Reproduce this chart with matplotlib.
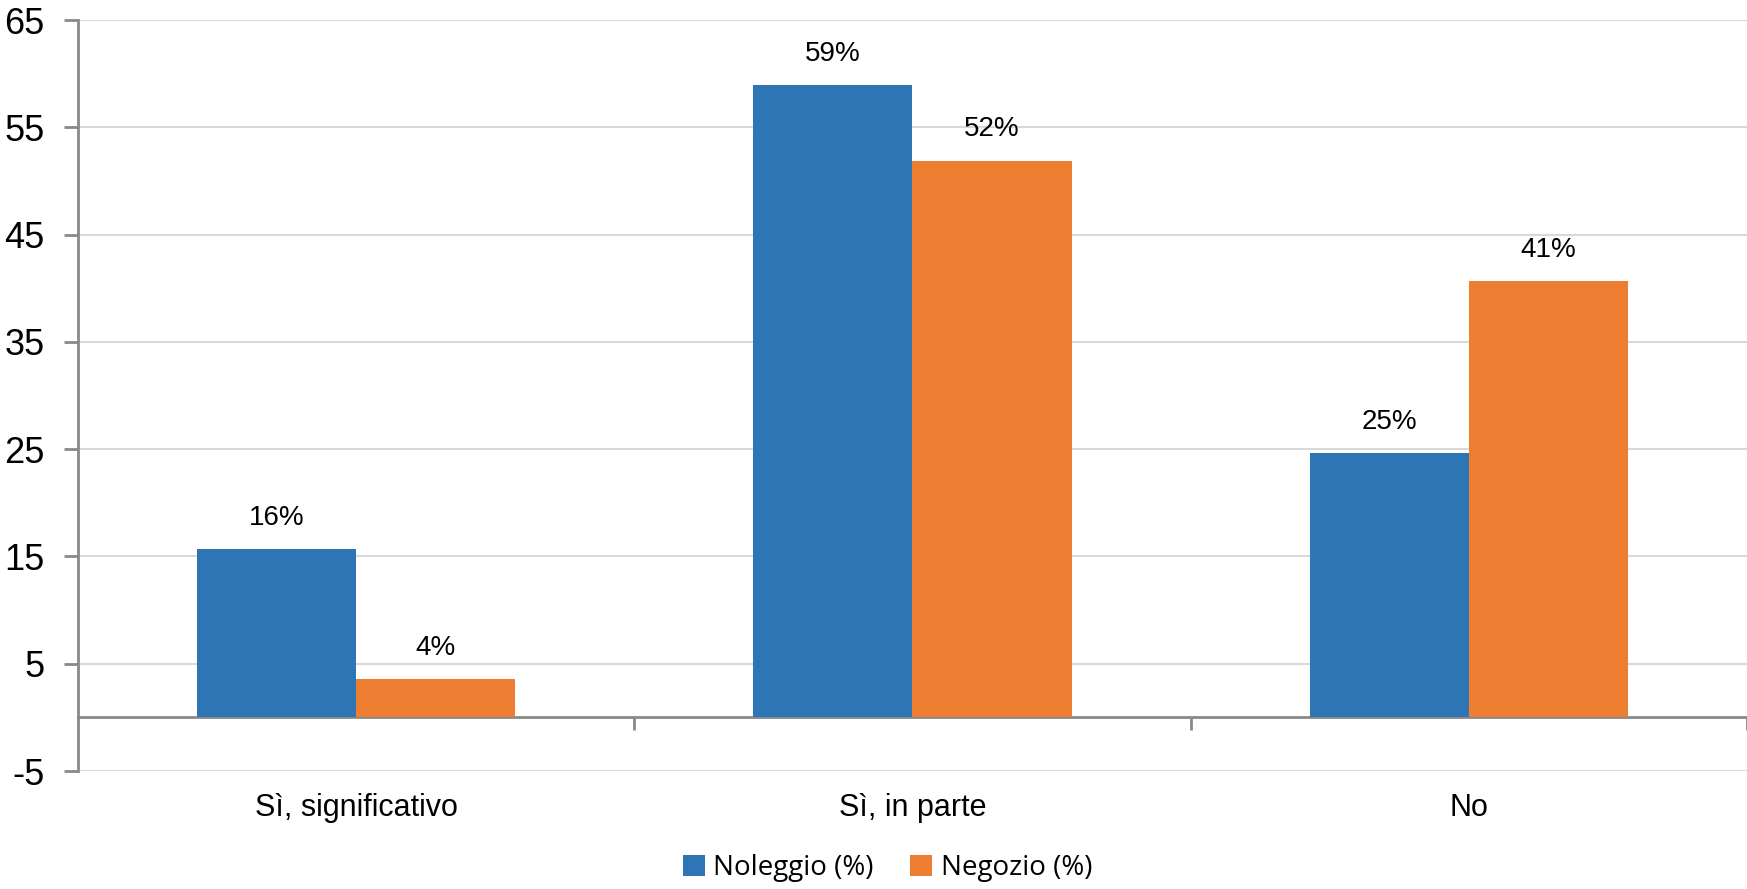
import matplotlib.pyplot as plt
import numpy as np

plt.rcParams['font.family'] = ['Liberation Sans', 'DejaVu Sans']

categorie = ["Sì, significativo", "Sì, in parte", "No"]
noleggio = [15.7, 58.9, 24.6]
negozio = [3.6, 51.9, 40.7]
serie = ["Noleggio (%)", "Negozio (%)"]
yticks = [-5, 5, 15, 25, 35, 45, 55, 65]

blu = "#2E75B6"
arancio = "#ED7D31"
grigio = "#898989"

fig = plt.figure(figsize=(17.47, 8.89), dpi=100)
ax = fig.add_axes([0.0446, 0.1327, 0.9554, 0.8448])

x = np.arange(len(categorie))
w = 0.286
b1 = ax.bar(x - w / 2, noleggio, w, color=blu, label=serie[0], zorder=3)
b2 = ax.bar(x + w / 2, negozio, w, color=arancio, label=serie[1], zorder=3)
for b in (b1, b2):
    ax.bar_label(b, labels=[f"{round(v)}%" for v in b.datavalues],
                 padding=13, fontsize=20)

ax.set_xlim(-0.5, 2.5)
ax.set_ylim(-5, 65)
ax.set_yticks(yticks)
ax.set_yticklabels([str(t) for t in yticks], fontsize=26)
ax.yaxis.grid(True, color="#d9d9d9", linewidth=1.5, zorder=0)
ax.tick_params(axis='y', length=10, width=2, color=grigio, pad=14)

# asse x a zero con tacche tra le categorie
ax.spines['bottom'].set_position(('data', 0))
ax.spines['bottom'].set_color(grigio)
ax.spines['bottom'].set_linewidth(2)
ax.spines['left'].set_color(grigio)
ax.spines['left'].set_linewidth(2)
ax.spines['top'].set_visible(False)
ax.spines['right'].set_visible(False)
ax.set_xticks([0.5, 1.5, 2.5])
ax.set_xticklabels([])
ax.tick_params(axis='x', length=9, width=2, color=grigio)

sec = ax.secondary_xaxis(0)
sec.set_xticks(x)
sec.set_xticklabels(categorie, fontsize=22)
sec.tick_params(length=0, pad=16)
sec.spines['bottom'].set_visible(False)

fig.legend(loc='lower center', bbox_to_anchor=(0.508, -0.02), ncol=2,
           frameon=False, prop={'family': 'Open Sans', 'size': 20},
           handlelength=0.8, handleheight=0.8, handletextpad=0.3,
           columnspacing=1.3)

fig.savefig("out.png", dpi=100)
